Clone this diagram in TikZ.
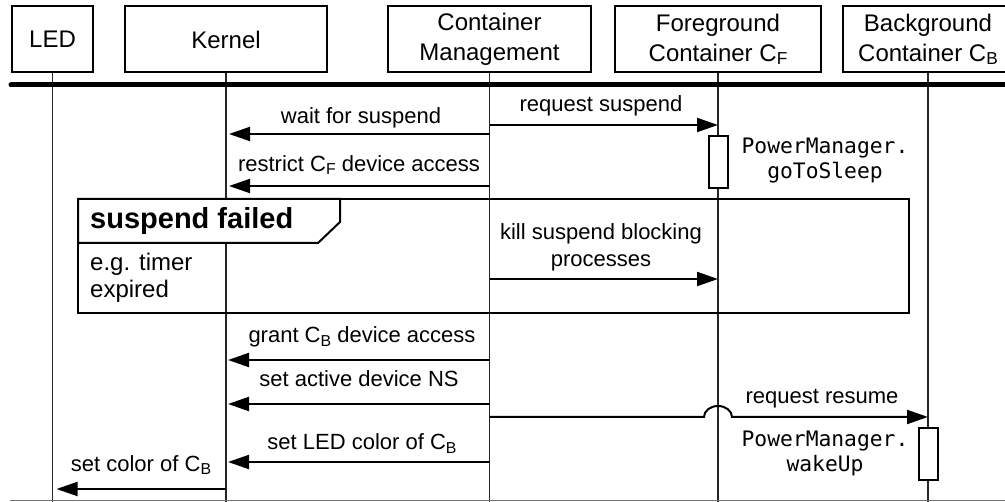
\documentclass[tikz,border=0pt]{standalone}
\usepackage{fontspec}
\setmainfont{Liberation Sans}
\setmonofont{DejaVu Sans Mono}
\usetikzlibrary{arrows.meta}
% lowered, smaller subscript letter
\newcommand\lsub[1]{\raisebox{-0.14em}{\scalebox{0.72}{#1}}}

\begin{document}
\begin{tikzpicture}[x=1pt,y=-1pt,
  actor/.style={draw, line width=2pt, fill=white, minimum height=66pt, align=center,
    font=\fontsize{24}{29.5}\selectfont, inner sep=0pt},
  life/.style={line width=1.3pt, draw=black!85},
  msg/.style={line width=2pt, -{Triangle[length=21pt,width=14pt]}},
  lbl/.style={anchor=base, font=\fontsize{22}{26}\selectfont, inner sep=0pt},
  code/.style={anchor=base, font=\fontsize{21.3}{25.5}\selectfont\ttfamily, inner sep=0pt},
  note/.style={anchor=base west, font=\fontsize{24}{28}\selectfont, inner sep=0pt},
  act/.style={draw, line width=2pt, fill=white, inner sep=0pt, minimum width=19pt, minimum height=52pt, anchor=north},
]
\useasboundingbox (0,0) rectangle (1005,502);

% participants
\node[actor, minimum width=81pt]  (led)  at (52.5,39.5) {LED};
\node[actor, minimum width=202pt] (kern) at (226,39.5) {Kernel};
\node[actor, minimum width=203pt] (cm)   at (489.5,39.5) {Container\\Management};
\node[actor, minimum width=206pt] (fg)   at (718,39.5) {Foreground\\Container C\lsub{F}};
\node[actor, minimum width=170pt] (bg)   at (928,39.5) {Background\\Container C\lsub{B}};

% lifelines
\foreach \p in {led,kern,cm,fg,bg}
  \draw[life] (\p.south) -- (\p.south |- 0,503);

% separator under the participants and the bottom rule
\draw[line width=5pt, line cap=round] (11,85) -- (1010,85);
\draw[black!55, line width=1.5pt] (10,500.5) -- (1010,500.5);

% combined fragment
\draw[line width=2pt] (78,199) rectangle (909,313);
\draw[line width=2pt, fill=white] (78,199) -- (340,199) -- (340,222) -- (318,243) -- (78,243) -- cycle;
\node[anchor=base west, font=\fontsize{29}{34}\selectfont\bfseries, inner sep=0pt] (ftitle) at (90,229) {suspend failed};
\node[note] (fn1) at (90,271) {e.g. timer};
\node[note] (fn2) at (90,298) {expired};

% activations
\node[act] (fgact) at (fg.south |- 0,135) {};
\node[act] (bgact) at (bg.south |- 0,427) {};

% messages
\draw[msg] (cm.south |- 0,125) -- (fg.south |- 0,125);
\node[lbl] (l1) at (601,112) {request suspend};

\draw[msg, shorten >=3pt] (cm.south |- 0,134) -- (kern.south |- 0,134);
\node[lbl] (l2) at (361,124) {wait for suspend};

\draw[msg, shorten >=3pt] (cm.south |- 0,186) -- (kern.south |- 0,186);
\node[lbl] (l3) at (359,171.5) {restrict C\lsub{F} device access};

\node[code] (c1) at (825,154) {PowerManager.};
\node[code] (c2) at (825,179) {goToSleep};

\draw[msg] (cm.south |- 0,279) -- (fg.south |- 0,279);
\node[lbl] (l4) at (601,240) {kill suspend blocking};
\node[lbl] (l4b) at (601,266.5) {processes};

\draw[msg, shorten >=2pt] (cm.south |- 0,360) -- (kern.south |- 0,360);
\node[lbl] (l5) at (362,343) {grant C\lsub{B} device access};

\draw[msg, shorten >=2pt] (cm.south |- 0,404) -- (kern.south |- 0,404);
\node[lbl] (l6) at (359,387) {set active device NS};

\coordinate (jmp) at (fg.south |- 0,417);
\draw[msg] (cm.south |- 0,417) -- ([xshift=-14pt]jmp)
  arc[start angle=180, end angle=0, x radius=14pt, y radius=11pt]
  -- (bg.south |- 0,417);
\node[lbl] (l7) at (822,404) {request resume};

\node[code] (c3) at (825,446.7) {PowerManager.};
\node[code] (c4) at (825,471.7) {wakeUp};

\draw[msg, shorten >=2pt] (cm.south |- 0,462) -- (kern.south |- 0,462);
\node[lbl] (l8) at (362,450) {set LED color of C\lsub{B}};

\draw[msg, shorten >=4pt] (kern.south |- 0,489) -- (led.south |- 0,489);
\node[lbl] (l9) at (141,471.7) {set color of C\lsub{B}};
\end{tikzpicture}
\end{document}
